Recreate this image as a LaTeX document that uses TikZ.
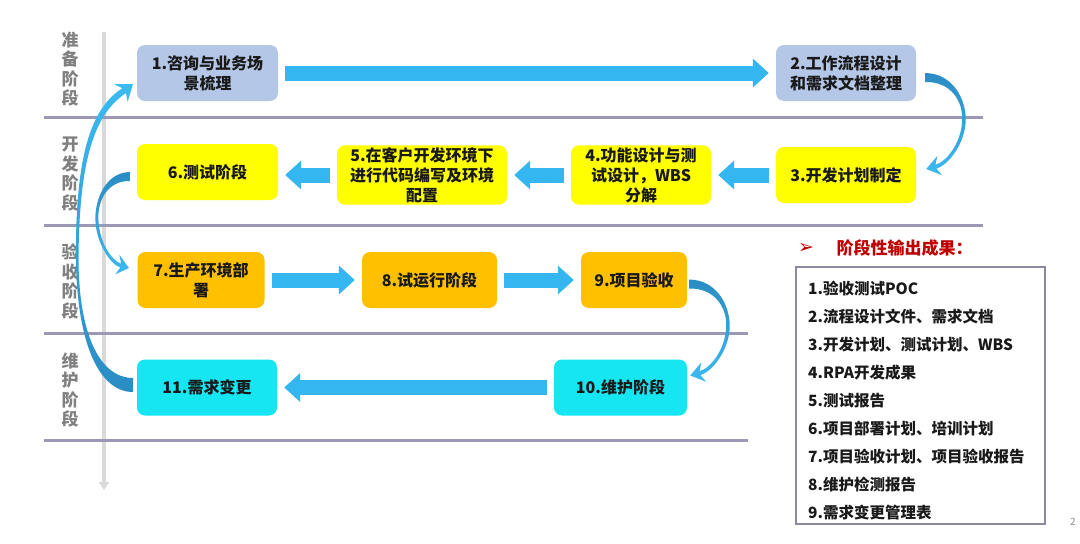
\documentclass[tikz,border=0pt]{standalone}
\usepackage{fontspec}
\setmainfont{Noto Sans CJK SC}
\newfontfamily\dejavu{DejaVu Sans}
\usepackage{xcolor}
\definecolor{boxblue}{RGB}{180,199,231}
\definecolor{boxyellow}{RGB}{255,255,0}
\definecolor{boxorange}{RGB}{255,192,0}
\definecolor{boxcyan}{RGB}{22,229,242}
\definecolor{arrowblue}{RGB}{52,182,240}
\definecolor{benddark}{RGB}{42,140,195}
\definecolor{bendlight}{RGB}{60,186,242}
\definecolor{lanegray}{RGB}{155,152,182}
\definecolor{framegray}{RGB}{140,138,160}
\definecolor{axisgray}{RGB}{217,217,217}
\definecolor{stagegray}{RGB}{128,128,128}
\definecolor{titlered}{RGB}{192,0,0}
\usetikzlibrary{arrows.meta, calc}
\tikzset{
  stepbox/.style={rounded corners=8pt, minimum height=56pt, inner sep=2pt,
    align=center, text=black!90, font=\bfseries\fontsize{16}{20}\selectfont},
  prepbox/.style={stepbox, fill=boxblue},
  devbox/.style={stepbox, fill=boxyellow},
  accbox/.style={stepbox, fill=boxorange},
  mntbox/.style={stepbox, fill=boxcyan},
  flowarrow/.style={-{Triangle[width=28pt,length=16pt]}, line width=15pt,
    color=arrowblue, shorten <=7pt, shorten >=7pt},
  stagelabel/.style={align=center, text=stagegray,
    font=\bfseries\fontsize{17}{19.5}\selectfont},
  laneline/.style={draw=lanegray, line width=3pt},
  axisline/.style={draw=axisgray, line width=4pt, -{Triangle[width=10pt,length=8pt]}},
  outbox/.style={draw=framegray, line width=2.5pt, minimum width=249pt, minimum height=257pt},
  outlist/.style={align=left, inner sep=0pt, text=black!90,
    font=\bfseries\fontsize{15.5}{28}\selectfont},
  bendarrow/.pic={
    \shade[top color=benddark, bottom color=bendlight]
      (0,-4.5) .. controls (28,-4) and (41,22) .. (40.5,43)
      .. controls (40,66) and (22.8,88.1) .. (11.2,91)
      -- (17,97.8) -- (1,91.5) -- (12.2,78.4) -- (10.2,87.2)
      .. controls (21,84.5) and (36,66) .. (37,43)
      .. controls (38,24) and (26,4) .. (0,4.5) -- cycle;
  }
}

\begin{document}
\begin{tikzpicture}[x=1pt, y=-1pt]

  \fill[white] (0,0) rectangle (1080,544);
  \useasboundingbox (0,0) rectangle (1080,544);

  % lanes
  \draw[axisline] (104,32) -- (104,490);
  \draw[laneline] (44,117) -- (983,117);
  \draw[laneline] (44,225) -- (983,225);
  \draw[laneline] (44,333) -- (748,333);
  \draw[laneline] (44,440) -- (748,440);

  \node[stagelabel] (stageprep) at (70,69)    {准\\备\\阶\\段};
  \node[stagelabel] (stagedev)  at (70,174)   {开\\发\\阶\\段};
  \node[stagelabel] (stageacc)  at (70,281.5) {验\\收\\阶\\段};
  \node[stagelabel] (stagemnt)  at (70,390)   {维\\护\\阶\\段};

  % steps
  \node[prepbox, minimum width=141pt] (b1) at (207.5,73) {1.咨询与业务场\\景梳理};
  \node[prepbox, minimum width=140pt] (b2) at (846,73)   {2.工作流程设计\\和需求文档整理};
  \node[devbox,  minimum width=140pt] (b3) at (846,175)  {3.开发计划制定};
  \node[devbox,  minimum width=140pt] (b4) at (641,175)  {4.功能设计与测\\试设计，WBS\\分解};
  \node[devbox,  minimum width=170pt] (b5) at (422,175)  {5.在客户开发环境下\\进行代码编写及环境\\配置};
  \node[devbox,  minimum width=141pt] (b6) at (207.5,172) {6.测试阶段};
  \node[accbox,  minimum width=127pt] (b7) at (201,280)  {7.生产环境部\\署};
  \node[accbox,  minimum width=135pt] (b8) at (429.5,280) {8.试运行阶段};
  \node[accbox,  minimum width=106pt] (b9) at (634,280)  {9.项目验收};
  \node[mntbox,  minimum width=133pt] (b10) at (620.5,387.5) {10.维护阶段};
  \node[mntbox,  minimum width=140pt] (b11) at (207,387.5) {11.需求变更};

  \draw[flowarrow] (b1.east) -- (b2.west);
  \draw[flowarrow] (b3.west) -- (b4.east);
  \draw[flowarrow] (b4.west) -- (b5.east);
  \draw[flowarrow] (b5.west) -- (b5.west -| b6.east);
  \draw[flowarrow] (b7.east) -- (b8.west);
  \draw[flowarrow] (b8.east) -- (b9.west);
  \draw[flowarrow] (b10.west) -- (b11.east);

  % bends between lanes
  \pic at ($(b2.east)+(9,4.5)$) {bendarrow};
  \pic at ($(b9.east)+(2,4)$) {bendarrow};
  \pic[xscale=-0.85] at ($(b6.west)+(-7,4.5)$) {bendarrow};

  \shade[top color=bendlight, bottom color=benddark]
    (133,392) .. controls (99,392) and (77,343) .. (76,260)
    .. controls (75,150) and (93,107) .. (122.4,88.2)
    -- (114.4,84.2) -- (133,84) -- (127.6,101.8) -- (126,93)
    .. controls (98,112) and (79,150) .. (78.5,260)
    .. controls (79,337) and (101,378) .. (133,378) -- cycle;

  % outputs
  \node[text=titlered, font=\dejavu\fontsize{19}{19}\selectfont] (outbullet) at (806,248) {➢};
  \node[anchor=west, text=titlered, font=\bfseries\fontsize{17}{20}\selectfont] (outtitle) at (833,248) {阶段性输出成果：};
  \node[outbox] (outbox) at (920.5,395.5) {};
  \node[outlist, anchor=west] (outlist) at (808,401)
    {1.验收测试POC\\2.流程设计文件、需求文档\\3.开发计划、测试计划、WBS\\4.RPA开发成果\\5.测试报告\\6.项目部署计划、培训计划\\7.项目验收计划、项目验收报告\\8.维护检测报告\\9.需求变更管理表};

  \node[text=black!45, font=\fontsize{10}{10}\selectfont] (pagenum) at (1073,522) {2};

\end{tikzpicture}
\end{document}
